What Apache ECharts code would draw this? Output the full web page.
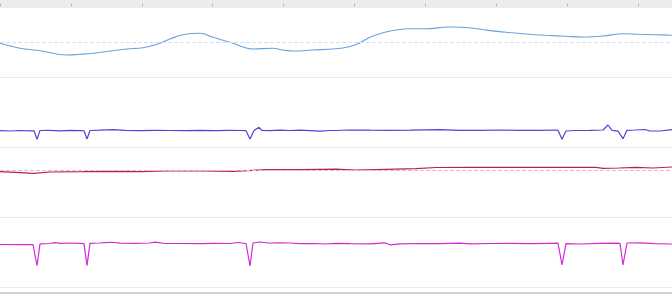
<!DOCTYPE html>
<html>
<head>
<meta charset="utf-8">
<script src="https://cdn.jsdelivr.net/npm/echarts@6/dist/echarts.min.js"></script>
<style>html,body{margin:0;padding:0;background:#fff}#c{width:672px;height:299px}</style>
</head>
<body>
<div id="c"></div>
<script>
// x positions (sample index) and values for each trace
const tickLabels = ['0', '1', '2', '3', '4', '5', '6', '7', '8', '9'];

const blueX = [0,20,40,67,80,93,110,127,143,157,170,183,200,213,233,253,273,283,293,313,336,349,359,369,383,396,409,426,449,469,486,506,526,546,566,583,603,623,639,656,672];
const blueY = [243.7,238.7,236.3,232,232.7,233.7,236,238,239.3,242.7,248,252.3,253.7,249.7,243.7,238,238.7,237,236,237,238.3,240.3,243.7,249.3,254.3,257,258.3,258.3,260,259.3,257,254.7,253,251.7,250.7,250,251,253.3,252.7,252.3,251.7];

const purpleX = [0,10,20,30,34,37,40,50,60,70,80,84,87,90,100,113,125,140,155,170,185,200,215,230,240,246,250,254,256,259,262,270,280,290,300,310,320,330,336,350,370,390,410,440,460,480,500,520,540,555,558,562,566,575,590,603,608,612,618,623,627,635,645,650,660,672];
const purpleY = [156.3,156,156.5,156.2,156.2,147.7,156.5,156.7,156.2,156.6,156.4,156.2,148,156.5,156.8,157.3,156.7,156.4,156.7,156.5,156.4,156.6,156.4,156.6,156.5,156.3,148,156.5,157.5,159.7,156.5,156.4,156.8,156.5,156.8,156.4,155.8,156.5,156.5,157,156.8,156.7,156.9,157.3,156.6,156.7,157,156.7,156.6,157,156.7,147.7,156,156.5,156.6,157,162,156.7,155.8,148.3,156.7,157,157.5,156,156,157.3];

const redX = [0,20,33,50,83,110,140,167,200,233,267,300,336,356,386,416,436,469,503,536,569,596,603,619,636,653,672];
const redY = [115.3,114.3,113.7,115,115.3,115.7,115.3,116,116,115.7,117.3,117.3,117.8,117,117.7,118.3,119.5,119.7,119.7,119.7,119.7,119.7,118.7,119,119.7,119,120];

const magentaX = [0,20,33,37,40,50,55,60,70,80,84,87,90,100,110,115,120,135,150,155,165,180,200,215,230,238,246,250,253,260,268,280,290,300,315,325,336,350,370,385,390,400,420,440,460,470,490,510,530,550,558,562,566,580,600,616,620,623,627,640,655,672];
const magentaY = [42.5,42.3,42.5,21.3,43.2,43.5,44.3,43.7,44,43.6,43.4,21.3,43.7,44,44.7,44.5,43.8,43.7,44,44.8,43.5,43.5,43.4,43.7,43.5,44.5,43.5,21,44,45,44,44.2,44,43.3,43.5,43,43.7,43.4,43.2,44.2,42.2,43.2,43.5,43.4,43.8,43.2,43.5,43.7,43.4,43.7,43.8,22,43.4,43,43.6,43.8,43.6,22,44,44.1,43.4,43];

// reference (dashed) levels
const refLevels = { blue: 244.7, red: 116.5 };

function pairs(xs, ys) { return xs.map((x, i) => [x, ys[i]]); }

function mk(value, color) {
  return {
    silent: true, symbol: 'none', animation: false,
    label: { show: false },
    lineStyle: { color: color, type: 'dashed', width: 1 },
    data: [{ yAxis: value }]
  };
}

const chart = echarts.init(document.getElementById('c'), null, { renderer: 'canvas' });
chart.setOption({
  animation: false,
  grid: { left: 0, right: 0, top: 7, bottom: 12, containLabel: false },
  xAxis: [
    {
      type: 'value', min: 0, max: 672, interval: 70.9, position: 'bottom', offset: 6,
      axisLine: { show: true, onZero: false, lineStyle: { color: '#c4c4c4', width: 1.5 } },
      axisTick: { show: false }, axisLabel: { show: false }, splitLine: { show: false }
    },
    {
      type: 'value', min: 0, max: 672, interval: 70.9, position: 'top', offset: 3.5,
      axisLine: { show: true, onZero: false, lineStyle: { color: '#ededed', width: 7 } },
      axisTick: { show: true, inside: true, length: 3, lineStyle: { color: '#b8b8b8' } },
      axisLabel: { show: false, formatter: (v, i) => tickLabels[i] || '' },
      splitLine: { show: false }
    }
  ],
  yAxis: {
    type: 'value', min: 0, max: 280, interval: 70,
    axisLine: { show: false }, axisTick: { show: false }, axisLabel: { show: false },
    splitLine: { show: true, lineStyle: { color: '#ececec', width: 1 } }
  },
  series: [
    { name: 'blue', type: 'line', xAxisIndex: 0, data: pairs(blueX, blueY), smooth: 0.4, showSymbol: false,
      lineStyle: { color: '#66a3dc', width: 1.1 }, itemStyle: { color: '#66a3dc' },
      markLine: mk(refLevels.blue, '#d0e2f3') },
    { name: 'purple', type: 'line', xAxisIndex: 0, data: pairs(purpleX, purpleY), showSymbol: false,
      lineStyle: { color: '#5a3fd8', width: 1.2 }, itemStyle: { color: '#5a3fd8' } },
    { name: 'red', type: 'line', xAxisIndex: 0, data: pairs(redX, redY), showSymbol: false,
      lineStyle: { color: '#b3225a', width: 1.2 }, itemStyle: { color: '#b3225a' },
      markLine: mk(refLevels.red, '#efb6ca') },
    { name: 'magenta', type: 'line', xAxisIndex: 0, data: pairs(magentaX, magentaY), showSymbol: false,
      lineStyle: { color: '#d22ad8', width: 1.2 }, itemStyle: { color: '#d22ad8' } }
  ]
});
</script>
</body>
</html>
